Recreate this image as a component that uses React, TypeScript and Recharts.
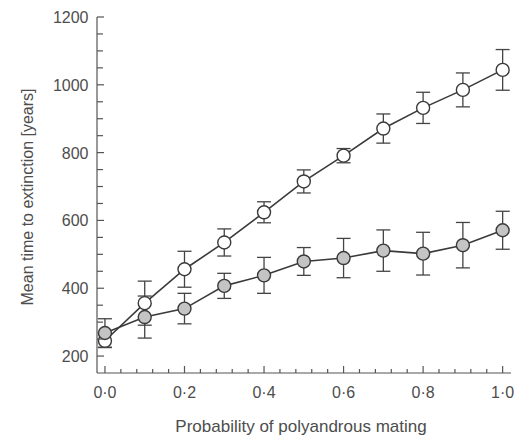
import { LineChart, Line, XAxis, YAxis, ErrorBar, Label } from "recharts";

// probability of polyandrous mating (x)
const probability = [0, 0.1, 0.2, 0.3, 0.4, 0.5, 0.6, 0.7, 0.8, 0.9, 1.0];

// open circles
const openMean = [245, 356, 456, 535, 624, 715, 791, 871, 932, 985, 1044];
const openErr = [20, 65, 53, 40, 31, 34, 21, 43, 46, 50, 60];

// grey filled circles
const filledMean = [268, 315, 340, 407, 438, 479, 489, 511, 502, 527, 571];
const filledErr = [42, 62, 45, 37, 53, 41, 58, 61, 63, 67, 56];

// axis ticks
const xTicks = [
  0, 0.04, 0.08, 0.12, 0.16, 0.2, 0.24, 0.28, 0.32, 0.36, 0.4, 0.44, 0.48,
  0.52, 0.56, 0.6, 0.64, 0.68, 0.72, 0.76, 0.8, 0.84, 0.88, 0.92, 0.96, 1.0,
];
const xMajorTicks = [0, 0.2, 0.4, 0.6, 0.8, 1.0];
const xTickLabels = ["0·0", "0·2", "0·4", "0·6", "0·8", "1·0"];

const yTicks = [
  200, 250, 300, 350, 400, 450, 500, 550, 600, 650, 700, 750, 800, 850, 900,
  950, 1000, 1050, 1100, 1150, 1200,
];
const yMajorTicks = [200, 400, 600, 800, 1000, 1200];

const data = probability.map((p, i) => ({
  p,
  open: openMean[i],
  openErr: openErr[i],
  filled: filledMean[i],
  filledErr: filledErr[i],
}));

const FONT = '"Liberation Sans", Arial, Helvetica, sans-serif';
const TEXT = "#4d4d4d";
const INK = "#3a3a3a";

function XTick(props: any) {
  const { x, y, payload } = props;
  const idx = xMajorTicks.findIndex((m) => Math.abs(m - payload.value) < 1e-6);
  const major = idx >= 0;
  return (
    <g>
      <line x1={x} x2={x} y1={y} y2={y - (major ? 7 : 4)} stroke="#555" strokeWidth={1.2} />
      {major && (
        <text x={x} y={y + 25} textAnchor="middle" fontSize={16} fontFamily={FONT} fill={TEXT}>
          {xTickLabels[idx]}
        </text>
      )}
    </g>
  );
}

function YTick(props: any) {
  const { x, y, payload } = props;
  const major = yMajorTicks.includes(payload.value);
  return (
    <g>
      <line x1={x} x2={x + (major ? 7 : 6)} y1={y} y2={y} stroke="#555" strokeWidth={1.2} />
      {major && (
        <text x={x - 8.5} y={y + 6} textAnchor="end" fontSize={16} fontFamily={FONT} fill={TEXT}>
          {payload.value}
        </text>
      )}
    </g>
  );
}

export default function App() {
  return (
    <div style={{ position: "absolute", left: 0, top: 0, background: "#fff" }}>
      <LineChart
        width={517}
        height={436}
        data={data}
        margin={{ top: 17, right: 6, bottom: 0, left: 0 }}
      >
        <XAxis
          dataKey="p"
          type="number"
          domain={[-0.02, 1.021]}
          ticks={xTicks}
          interval={0}
          tickSize={0}
          tickMargin={0}
          tick={<XTick />}
          height={63}
          axisLine={{ stroke: "#555", strokeWidth: 1.2 }}
          allowDataOverflow
        >
          <Label
            content={({ viewBox }: any) => (
              <text
                x={viewBox.x + viewBox.width / 2 - 3}
                y={viewBox.y + 59}
                textAnchor="middle"
                fontSize={17}
                fontFamily={FONT}
                fill={TEXT}
              >
                Probability of polyandrous mating
              </text>
            )}
          />
        </XAxis>
        <YAxis
          type="number"
          domain={[150, 1200]}
          ticks={yTicks}
          interval={0}
          tickSize={0}
          tickMargin={0}
          tick={<YTick />}
          width={97}
          axisLine={{ stroke: "#555", strokeWidth: 1.2 }}
          allowDataOverflow
        >
          <Label
            content={({ viewBox }: any) => {
              const cx = 33;
              const cy = viewBox.y + viewBox.height / 2 + 2;
              return (
                <text
                  x={cx}
                  y={cy}
                  transform={`rotate(-90, ${cx}, ${cy})`}
                  textAnchor="middle"
                  fontSize={16}
                  fontFamily={FONT}
                  fill={TEXT}
                >
                  Mean time to extinction [years]
                </text>
              );
            }}
          />
        </YAxis>
        <Line
          dataKey="open"
          stroke={INK}
          strokeWidth={1.6}
          dot={{ r: 6.5, fill: "#fff", stroke: INK, strokeWidth: 1.4 }}
          isAnimationActive={false}
        >
          <ErrorBar dataKey="openErr" width={7} stroke="#444" strokeWidth={1.3} isAnimationActive={false} />
        </Line>
        <Line
          dataKey="filled"
          stroke={INK}
          strokeWidth={1.6}
          dot={{ r: 6.5, fill: "#c4c4c4", stroke: INK, strokeWidth: 1.4 }}
          isAnimationActive={false}
        >
          <ErrorBar dataKey="filledErr" width={7} stroke="#444" strokeWidth={1.3} isAnimationActive={false} />
        </Line>
      </LineChart>
    </div>
  );
}
